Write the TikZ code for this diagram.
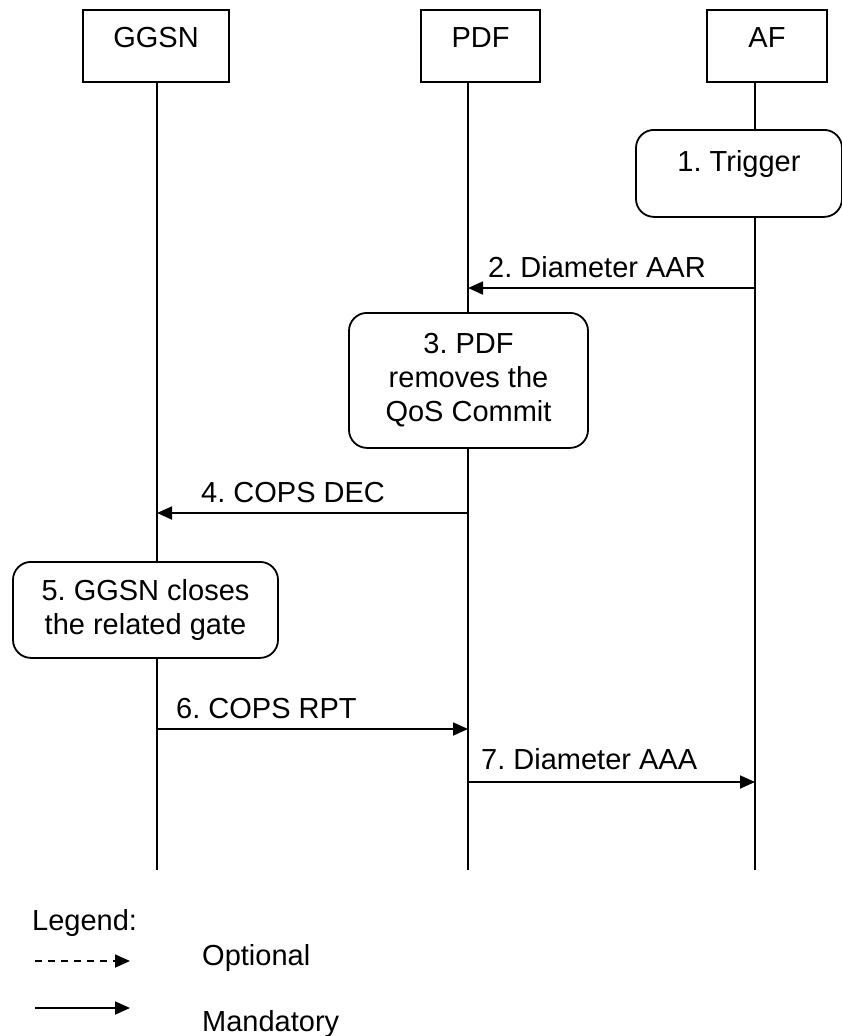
\documentclass[tikz,border=0pt]{standalone}
\usepackage{fontspec}
\setmainfont{Liberation Sans}
\frenchspacing
\usetikzlibrary{arrows.meta, positioning}

\tikzset{
  entity/.style={draw, line width=1.8pt, inner sep=0pt, anchor=north,
    text height=38pt, text depth=34pt, font=\fontsize{29}{34}\selectfont},
  action/.style={draw, fill=white, rounded corners=18pt, line width=1.8pt, anchor=north,
    align=center, inner sep=0pt, font=\fontsize{29}{34}\selectfont},
  lifeline/.style={line width=1.8pt},
  msg/.style={line width=1.8pt, -{Triangle[length=15pt,width=13pt]}},
  lbl/.style={anchor=base west, inner sep=0pt, font=\fontsize{29}{34}\selectfont}
}

\begin{document}
\begin{tikzpicture}[x=1pt, y=-1pt]
  \useasboundingbox (0,0) rectangle (842,1036);

  % Entities
  \node[entity, minimum width=146pt] (ggsn) at (156,9) {GGSN};
  \node[entity, minimum width=119pt] (pdf) at (480.5,9) {PDF};
  \node[entity, minimum width=120pt] (af) at (767,9) {AF};

  % Lifelines
  \coordinate (ggsnend) at (157,870);
  \coordinate (pdfend) at (468,870);
  \coordinate (afend) at (755,870);
  \draw[lifeline] (ggsnend |- ggsn.south) -- (ggsnend);
  \draw[lifeline] (pdfend |- pdf.south) -- (pdfend);
  \draw[lifeline] (afend |- af.south) -- (afend);

  % 1. Trigger
  \node[action, minimum width=206pt, text height=42pt, text depth=45pt] (trigger) at (739,129) {1. Trigger};

  % 2. Diameter AAR
  \coordinate (m2) at (0,288);
  \draw[msg] (afend |- m2) -- (pdfend |- m2);
  \node[lbl] (aar) at (488,277) {2. Diameter AAR};

  % 3. PDF removes the QoS Commit
  \node[action, minimum width=239pt, minimum height=135pt] (remove) at (468.5,312)
    {3. PDF\\removes the\\QoS Commit};

  % 4. COPS DEC
  \coordinate (m4) at (0,513);
  \draw[msg] (pdfend |- m4) -- (ggsnend |- m4);
  \node[lbl] (dec) at (201,502) {4. COPS DEC};

  % 5. GGSN closes the related gate
  \node[action, minimum width=265pt, minimum height=96pt] (close) at (145.5,561)
    {5. GGSN closes\\the related gate};

  % 6. COPS RPT
  \coordinate (m6) at (0,729);
  \draw[msg] (ggsnend |- m6) -- (pdfend |- m6);
  \node[lbl] (rpt) at (176,718) {6. COPS RPT};

  % 7. Diameter AAA
  \coordinate (m7) at (0,782);
  \draw[msg] (pdfend |- m7) -- (afend |- m7);
  \node[lbl] (aaa) at (481,769) {7. Diameter AAA};

  % Legend
  \node[lbl] (legend) at (32,930) {Legend:};
  \coordinate (optA) at (35,961);
  \coordinate (optB) at (130,961);
  \draw[msg, dash pattern=on 7pt off 6pt] (optA) -- (optB);
  \node[lbl] (optional) at (202,965) {Optional};
  \coordinate (manA) at (35,1008);
  \coordinate (manB) at (130,1008);
  \draw[msg] (manA) -- (manB);
  \node[lbl] (mandatory) at (202,1031) {Mandatory};
\end{tikzpicture}
\end{document}
